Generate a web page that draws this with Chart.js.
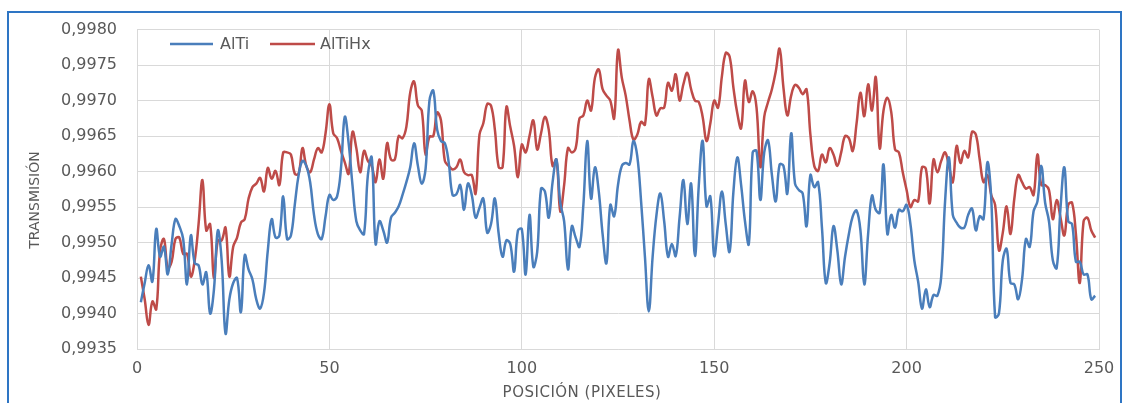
<!DOCTYPE html>
<html>
<head>
<meta charset="utf-8">
<script src="https://cdn.jsdelivr.net/npm/chart.js@4"></script>
<style>
  html, body { margin: 0; padding: 0; background: #fff; }
  #wrap { position: relative; width: 1127px; height: 403px; overflow: hidden; }
  #frame { position: absolute; left: 7px; top: 11px; width: 1115px; height: 420px; border: 2px solid #2e75c4; box-sizing: border-box; }
  canvas { position: absolute; left: 0; top: 0; }
</style>
</head>
<body>
<div id="wrap">
  <div id="frame"></div>
  <canvas id="chart" width="1127" height="403"></canvas>
</div>
<script>
// pixel positions along the profile
const positions = Array.from({ length: 249 }, (_, i) => i + 1);

const altiValues = [
  0.99416, 0.99443, 0.99468, 0.99445, 0.99519, 0.99480, 0.99494, 0.99455, 0.99498, 0.99533,
  0.99523, 0.99505, 0.99441, 0.99510, 0.99471, 0.99468, 0.99441, 0.99458, 0.99400, 0.99434,
  0.99517, 0.99475, 0.99372, 0.99420, 0.99443, 0.99450, 0.99402, 0.99482, 0.99462, 0.99448,
  0.99420, 0.99407, 0.99429, 0.99489, 0.99533, 0.99507, 0.99510, 0.99565, 0.99505, 0.99510,
  0.99553, 0.99595, 0.99615, 0.99608, 0.99585, 0.99539, 0.99512, 0.99505, 0.99537, 0.99567,
  0.99560, 0.99565, 0.99604, 0.99677, 0.99640, 0.99581, 0.99530, 0.99517, 0.99512, 0.99595,
  0.99620, 0.99498, 0.99530, 0.99517, 0.99500, 0.99535, 0.99542, 0.99551, 0.99567, 0.99585,
  0.99606, 0.99640, 0.99608, 0.99583, 0.99604, 0.99700, 0.99714, 0.99659, 0.99643, 0.99640,
  0.99613, 0.99567, 0.99568, 0.99581, 0.99546, 0.99583, 0.99567, 0.99535, 0.99549, 0.99562,
  0.99514, 0.99526, 0.99562, 0.99512, 0.99480, 0.99503, 0.99498, 0.99459, 0.99517, 0.99519,
  0.99455, 0.99539, 0.99466, 0.99487, 0.99576, 0.99572, 0.99535, 0.99585, 0.99617, 0.99556,
  0.99530, 0.99462, 0.99523, 0.99507, 0.99494, 0.99553, 0.99643, 0.99562, 0.99606, 0.99572,
  0.99512, 0.99471, 0.99553, 0.99537, 0.99581, 0.99608, 0.99612, 0.99610, 0.99643, 0.99622,
  0.99558, 0.99480, 0.99403, 0.99480, 0.99539, 0.99569, 0.99530, 0.99480, 0.99498, 0.99481,
  0.99535, 0.99588, 0.99526, 0.99583, 0.99481, 0.99581, 0.99643, 0.99551, 0.99565, 0.99481,
  0.99526, 0.99572, 0.99526, 0.99487, 0.99572, 0.99620, 0.99581, 0.99530, 0.99498, 0.99627,
  0.99629, 0.99560, 0.99627, 0.99644, 0.99595, 0.99558, 0.99610, 0.99608, 0.99569, 0.99654,
  0.99583, 0.99574, 0.99569, 0.99523, 0.99595, 0.99578, 0.99585, 0.99521, 0.99443, 0.99471,
  0.99523, 0.99489, 0.99441, 0.99480, 0.99512, 0.99537, 0.99545, 0.99517, 0.99441, 0.99512,
  0.99566, 0.99546, 0.99542, 0.99610, 0.99512, 0.99539, 0.99521, 0.99546, 0.99544, 0.99553,
  0.99526, 0.99475, 0.99445, 0.99407, 0.99434, 0.99409, 0.99426, 0.99425, 0.99452, 0.99558,
  0.99620, 0.99539, 0.99528, 0.99521, 0.99521, 0.99539, 0.99548, 0.99517, 0.99537, 0.99533,
  0.99613, 0.99562, 0.99395, 0.99400, 0.99475, 0.99491, 0.99443, 0.99441, 0.99420, 0.99448,
  0.99505, 0.99494, 0.99544, 0.99558, 0.99608, 0.99556, 0.99530, 0.99475, 0.99464, 0.99549,
  0.99606, 0.99530, 0.99526, 0.99473, 0.99473, 0.99455, 0.99455, 0.99420, 0.99425
];

const altiHxValues = [
  0.99452, 0.99420, 0.99384, 0.99417, 0.99406, 0.99489, 0.99505, 0.99464, 0.99473, 0.99505,
  0.99507, 0.99484, 0.99484, 0.99452, 0.99475, 0.99526, 0.99588, 0.99517, 0.99526, 0.99450,
  0.99503, 0.99503, 0.99521, 0.99452, 0.99494, 0.99507, 0.99528, 0.99533, 0.99562, 0.99578,
  0.99583, 0.99591, 0.99572, 0.99605, 0.99590, 0.99601, 0.99581, 0.99627, 0.99627, 0.99624,
  0.99597, 0.99597, 0.99633, 0.99608, 0.99599, 0.99617, 0.99633, 0.99627, 0.99654, 0.99695,
  0.99654, 0.99647, 0.99629, 0.99613, 0.99597, 0.99656, 0.99633, 0.99599, 0.99629, 0.99615,
  0.99608, 0.99585, 0.99617, 0.99590, 0.99640, 0.99617, 0.99617, 0.99650, 0.99647, 0.99663,
  0.99711, 0.99727, 0.99693, 0.99686, 0.99624, 0.99649, 0.99650, 0.99683, 0.99672, 0.99615,
  0.99608, 0.99603, 0.99606, 0.99617, 0.99599, 0.99595, 0.99595, 0.99569, 0.99652, 0.99668,
  0.99695, 0.99693, 0.99659, 0.99606, 0.99606, 0.99691, 0.99663, 0.99636, 0.99592, 0.99638,
  0.99627, 0.99650, 0.99672, 0.99631, 0.99654, 0.99677, 0.99659, 0.99608, 0.99617, 0.99544,
  0.99581, 0.99633, 0.99627, 0.99633, 0.99675, 0.99679, 0.99700, 0.99686, 0.99732, 0.99744,
  0.99716, 0.99707, 0.99700, 0.99675, 0.99771, 0.99732, 0.99707, 0.99672, 0.99645, 0.99652,
  0.99670, 0.99666, 0.99730, 0.99705, 0.99679, 0.99689, 0.99690, 0.99725, 0.99714, 0.99737,
  0.99700, 0.99723, 0.99739, 0.99716, 0.99700, 0.99698, 0.99677, 0.99643, 0.99668, 0.99700,
  0.99690, 0.99734, 0.99767, 0.99762, 0.99718, 0.99682, 0.99661, 0.99728, 0.99698, 0.99713,
  0.99690, 0.99606, 0.99677, 0.99698, 0.99716, 0.99741, 0.99773, 0.99718, 0.99679, 0.99707,
  0.99722, 0.99718, 0.99709, 0.99716, 0.99652, 0.99608, 0.99601, 0.99624, 0.99613, 0.99633,
  0.99624, 0.99608, 0.99627, 0.99650, 0.99647, 0.99629, 0.99668, 0.99711, 0.99678, 0.99723,
  0.99686, 0.99733, 0.99633, 0.99686, 0.99704, 0.99684, 0.99631, 0.99627, 0.99599, 0.99574,
  0.99550, 0.99560, 0.99558, 0.99606, 0.99604, 0.99555, 0.99617, 0.99599, 0.99615, 0.99627,
  0.99608, 0.99585, 0.99636, 0.99612, 0.99629, 0.99620, 0.99656, 0.99652, 0.99617, 0.99585,
  0.99595, 0.99567, 0.99553, 0.99489, 0.99514, 0.99551, 0.99512, 0.99562, 0.99595, 0.99585,
  0.99576, 0.99578, 0.99567, 0.99624, 0.99581, 0.99581, 0.99574, 0.99533, 0.99560, 0.99535,
  0.99510, 0.99553, 0.99556, 0.99512, 0.99443, 0.99530, 0.99535, 0.99517, 0.99507
];

const seriesNames = ['AlTi', 'AlTiHx'];
const seriesColors = ['#4a7ebb', '#be4b48'];
const xTicks = [0, 50, 100, 150, 200, 250];

const textColor = '#595959';
const gridColor = '#d9d9d9';
const fontFamily = '"DejaVu Sans", sans-serif';

function toPoints(values) {
  return values.map((v, i) => ({ x: positions[i], y: v }));
}

// legend drawn inside the plot, Excel style
const insideLegend = {
  id: 'insideLegend',
  afterDraw(chart) {
    const ctx = chart.ctx;
    const items = [
      { x: 170, w: 43, tx: 220 },
      { x: 270, w: 45, tx: 320 }
    ];
    ctx.save();
    ctx.font = '16px ' + fontFamily;
    ctx.textBaseline = 'middle';
    items.forEach((it, i) => {
      ctx.strokeStyle = seriesColors[i];
      ctx.lineWidth = 2.5;
      ctx.beginPath();
      ctx.moveTo(it.x, 44);
      ctx.lineTo(it.x + it.w, 44);
      ctx.stroke();
      ctx.fillStyle = textColor;
      ctx.fillText(seriesNames[i], it.tx, 45);
    });
    ctx.restore();
  }
};

// axis titles sit off-centre in the original
const axisTitles = {
  id: 'axisTitles',
  afterDraw(chart) {
    const ctx = chart.ctx;
    ctx.save();
    ctx.fillStyle = textColor;
    ctx.font = '15px ' + fontFamily;
    ctx.letterSpacing = '0.5px';
    ctx.textAlign = 'center';
    ctx.textBaseline = 'middle';
    ctx.fillText('POSICIÓN (PIXELES)', 582, 393);
    ctx.font = '14px ' + fontFamily;
    ctx.letterSpacing = '0px';
    ctx.translate(35, 200);
    ctx.rotate(-Math.PI / 2);
    ctx.fillText('TRANSMISIÓN', 0, 0);
    ctx.restore();
  }
};

new Chart(document.getElementById('chart'), {
  type: 'line',
  data: {
    datasets: [
      {
        label: seriesNames[0],
        data: toPoints(altiValues),
        borderColor: seriesColors[0],
        borderWidth: 2.5,
        pointRadius: 0,
        tension: 0.4,
        fill: false
      },
      {
        label: seriesNames[1],
        data: toPoints(altiHxValues),
        borderColor: seriesColors[1],
        borderWidth: 2.5,
        pointRadius: 0,
        tension: 0.4,
        fill: false
      }
    ]
  },
  options: {
    responsive: false,
    animation: false,
    layout: { padding: { top: 22, right: 28, left: 0, bottom: 0 } },
    plugins: {
      legend: { display: false },
      tooltip: { enabled: false }
    },
    scales: {
      x: {
        type: 'linear',
        min: 0,
        max: 250,
        afterBuildTicks: scale => { scale.ticks = xTicks.map(v => ({ value: v })); },
        afterFit: scale => { scale.height = 54; },
        grid: { color: gridColor, drawTicks: false },
        border: { color: gridColor },
        ticks: { color: textColor, font: { family: fontFamily, size: 16 }, padding: 10, maxRotation: 0 }
      },
      y: {
        min: 0.9935,
        max: 0.9980,
        afterFit: scale => { scale.width = 137; },
        grid: { color: gridColor, drawTicks: false },
        border: { color: gridColor },
        ticks: {
          stepSize: 0.0005,
          color: textColor,
          font: { family: fontFamily, size: 16 },
          padding: 20,
          callback: v => v.toFixed(4).replace('.', ',')
        }
      }
    }
  },
  plugins: [insideLegend, axisTitles]
});
</script>
</body>
</html>
